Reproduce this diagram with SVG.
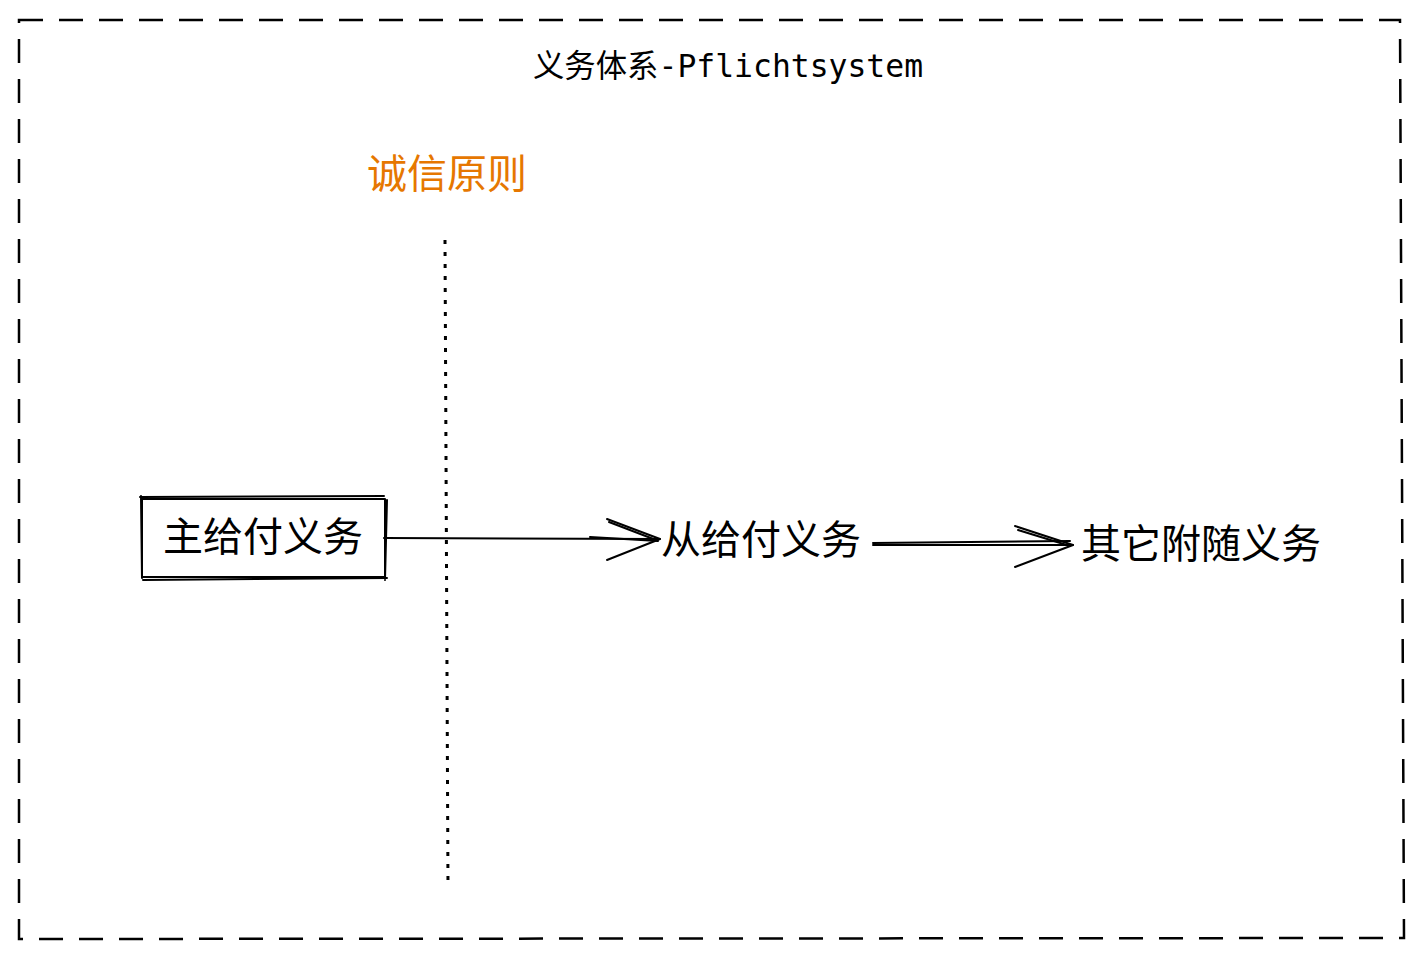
<svg xmlns="http://www.w3.org/2000/svg" width="1422" height="958" viewBox="0 0 1422 958">
<style>
.t{font-family:"Noto Sans CJK SC","Liberation Sans",sans-serif;font-size:40px;fill:#000}
.mono{font-family:"DejaVu Sans Mono","Noto Sans CJK SC",monospace;font-size:31.4px;fill:#000}
.ln{fill:none;stroke:#000;stroke-width:2;stroke-linecap:round;stroke-linejoin:round}
</style>
<rect width="1422" height="958" fill="#fff"/>
<g id="frame">
<path d="M19 20 L1400 20 L1404 938 L19 939 Z" fill="none" stroke="#000" stroke-width="2.5" stroke-dasharray="24 16"/>
<text class="mono" x="728" y="77" text-anchor="middle">义务体系-Pflichtsystem</text>
</g>
<g id="principle">
<text class="t" x="447" y="188" text-anchor="middle" style="fill:#e67700">诚信原则</text>
<path d="M445 240 L448 888" fill="none" stroke="#000" stroke-width="3" stroke-dasharray="4 8"/>
</g>
<g id="main">
<rect x="142" y="499" width="243" height="78" class="ln"/>
<path d="M140 497 L384 496 M143 580 L387 578 M141 496 L142 578 M387 500 L385 580" class="ln" stroke-width="1"/>
<text class="t" x="263" y="551" text-anchor="middle">主给付义务</text>
</g>
<g id="secondary">
<text class="t" x="761" y="554" text-anchor="middle">从给付义务</text>
</g>
<g id="other">
<text class="t" x="1201" y="558" text-anchor="middle">其它附随义务</text>
</g>
<g id="connectors">
<path d="M384 538 L660 539" class="ln"/>
<path d="M590 537 L658 541" class="ln" stroke-width="1"/>
<path d="M607 519 L660 539 L607 560" class="ln"/>
<path d="M609 522 L656 540" class="ln" stroke-width="1"/>
<path d="M873 545 L1073 545" class="ln"/>
<path d="M873 543 L1070 541" class="ln" stroke-width="1"/>
<path d="M1015 526 L1073 545 L1015 567" class="ln"/>
<path d="M1018 530 L1070 546" class="ln" stroke-width="1"/>
</g>
</svg>
